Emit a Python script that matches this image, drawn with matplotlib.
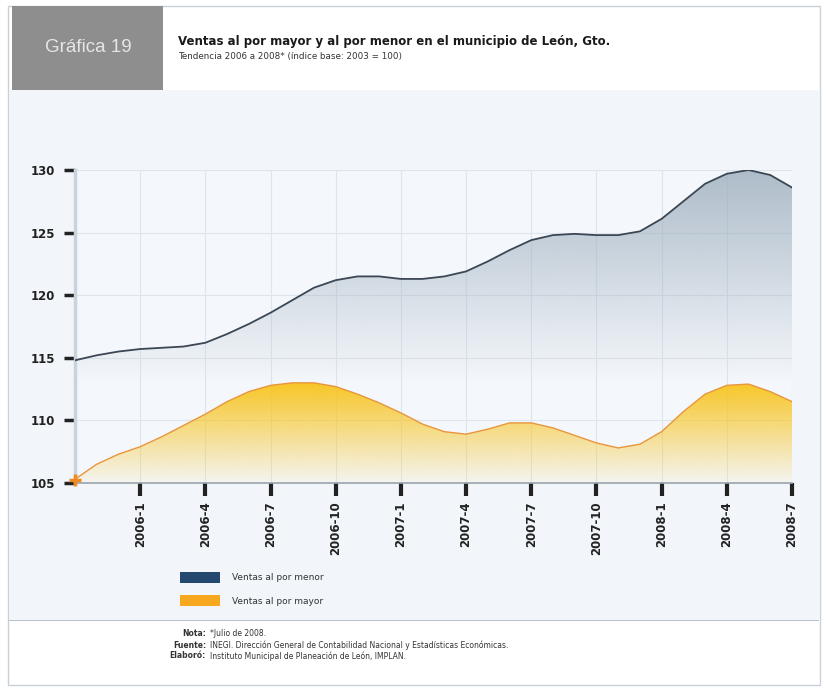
import numpy as np
import matplotlib.pyplot as plt
from matplotlib.patches import Rectangle, Polygon
from matplotlib.colors import to_rgb

# monthly index, 2005-10 .. 2008-7
meses = np.arange(34)
menor = [114.8, 115.2, 115.5, 115.7, 115.8, 115.9, 116.2, 116.9, 117.7, 118.6,
         119.6, 120.6, 121.2, 121.5, 121.5, 121.3, 121.3, 121.5, 121.9, 122.7,
         123.6, 124.4, 124.8, 124.9, 124.8, 124.8, 125.1, 126.1, 127.5, 128.9,
         129.7, 130.0, 129.6, 128.6]
mayor = [105.3, 106.5, 107.3, 107.9, 108.7, 109.6, 110.5, 111.5, 112.3, 112.8,
         113.0, 113.0, 112.7, 112.1, 111.4, 110.6, 109.7, 109.1, 108.9, 109.3,
         109.8, 109.8, 109.4, 108.8, 108.2, 107.8, 108.1, 109.1, 110.7, 112.1,
         112.8, 112.9, 112.3, 111.5]
tick_pos = [3, 6, 9, 12, 15, 18, 21, 24, 27, 30, 33]
tick_lab = ['2006-1', '2006-4', '2006-7', '2006-10', '2007-1', '2007-4',
            '2007-7', '2007-10', '2008-1', '2008-4', '2008-7']
y_ticks = [105, 110, 115, 120, 125, 130]

W, H = 825, 689
fig = plt.figure(figsize=(W / 100, H / 100), dpi=100)
fig.patch.set_facecolor('white')


def fx(x):
    return x / W


def fy(y):
    return 1 - y / H


# frame, background, header
fig.patches.append(Rectangle((fx(8), fy(685)), fx(812), (685 - 6) / H, transform=fig.transFigure,
                             facecolor='white', edgecolor='#c9d0d8', lw=1, zorder=0))
fig.patches.append(Rectangle((fx(9), fy(620)), fx(810), (620 - 90) / H, transform=fig.transFigure,
                             facecolor='#f2f6fa', edgecolor='none', zorder=0))
fig.patches.append(Rectangle((fx(9), fy(621)), fx(810), 1.2 / H, transform=fig.transFigure,
                             facecolor='#b8c0c8', edgecolor='none', zorder=0))
fig.patches.append(Rectangle((fx(12), fy(90)), fx(151), (90 - 6) / H, transform=fig.transFigure,
                             facecolor='#8e8e8e', edgecolor='none', zorder=1))
fig.text(fx(88), fy(47), 'Gráfica 19', color='#e6e6e6', fontsize=13.5, ha='center', va='center',
         family='Liberation Sans')
fig.text(fx(178), fy(42), 'Ventas al por mayor y al por menor en el municipio de León, Gto.',
         fontsize=8.5, fontweight='bold', ha='left', va='center', color='#1a1a1a')
fig.text(fx(178), fy(56), 'Tendencia 2006 a 2008* (índice base: 2003 = 100)',
         fontsize=6.3, ha='left', va='center', color='#333333')

ax = fig.add_axes([fx(75), fy(483), fx(792 - 75), (483 - 170) / H])
ax.set_zorder(5)
ax.set_facecolor('#f4f7fb')
ax.set_xlim(0, 33)
ax.set_ylim(105, 130)


def gradient_fill(xs, ys, color, a_top, a_bot, y_top, y_bot):
    n = 256
    yy = np.linspace(105, 130, n)
    t = np.clip((yy - y_bot) / (y_top - y_bot), 0, 1)
    rgba = np.zeros((n, 1, 4))
    rgba[:, 0, :3] = to_rgb(color)
    rgba[:, 0, 3] = a_bot + (a_top - a_bot) * t
    verts = np.column_stack([np.r_[xs, xs[::-1]], np.r_[ys, np.full(len(ys), 105.0)]])
    poly = Polygon(verts, closed=True, facecolor='none', edgecolor='none', transform=ax.transData)
    ax.add_patch(poly)
    im = ax.imshow(rgba, extent=[0, 33, 105, 130], aspect='auto', origin='lower', zorder=2)
    im.set_clip_path(poly)


ax.grid(True, color='#dfe5ec', lw=0.8, zorder=1)
ax.set_axisbelow(True)
gradient_fill(meses, menor, '#97a9b9', 0.75, 0.0, 130, 113)
gradient_fill(meses, mayor, '#f8c31a', 0.95, 0.05, 113, 105)
ax.plot(meses, menor, color='#3b4755', lw=1.3, zorder=4)
ax.plot(meses, mayor, color='#e8963e', lw=1.0, zorder=4)
ax.plot([0], [105.2], marker='+', color='#f08a24', ms=9, mew=2.5, zorder=5, clip_on=False)

ax.set_xticks(tick_pos)
ax.set_xticklabels(tick_lab, rotation=90, fontsize=8.5, fontweight='bold', color='#222222')
ax.set_yticks(y_ticks)
ax.set_yticklabels([str(v) for v in y_ticks], fontsize=8.5, fontweight='bold', color='#222222')
ax.tick_params(axis='x', length=9, width=3, color='#222222', pad=4)
ax.tick_params(axis='y', length=8, width=2.5, color='#222222', pad=6)
for s in ['top', 'right']:
    ax.spines[s].set_visible(False)
ax.spines['left'].set_color('#c9d2dd')
ax.spines['left'].set_linewidth(2.5)
ax.spines['bottom'].set_color('#9aa3ad')
ax.spines['bottom'].set_linewidth(1.2)

# legend
fig.patches.append(Rectangle((fx(180), fy(583)), fx(40), 11 / H, transform=fig.transFigure,
                             facecolor='#234a6e', edgecolor='none', zorder=2))
fig.patches.append(Rectangle((fx(180), fy(606)), fx(40), 11 / H, transform=fig.transFigure,
                             facecolor='#f7a81e', edgecolor='none', zorder=2))
fig.text(fx(232), fy(578), 'Ventas al por menor', fontsize=6.5, va='center', color='#333333')
fig.text(fx(232), fy(601), 'Ventas al por mayor', fontsize=6.5, va='center', color='#333333')

# notes
notas = [('Nota:', '*Julio de 2008.'),
         ('Fuente:', 'INEGI. Dirección General de Contabilidad Nacional y Estadísticas Económicas.'),
         ('Elaboró:', 'Instituto Municipal de Planeación de León, IMPLAN.')]
for i, (k, v) in enumerate(notas):
    yy = 634 + i * 11
    fig.text(fx(206), fy(yy), k, fontsize=5.5, fontweight='bold', ha='right', va='center', color='#333333')
    fig.text(fx(210), fy(yy), v, fontsize=5.5, ha='left', va='center', color='#333333')

fig.savefig('out.png', dpi=100)
